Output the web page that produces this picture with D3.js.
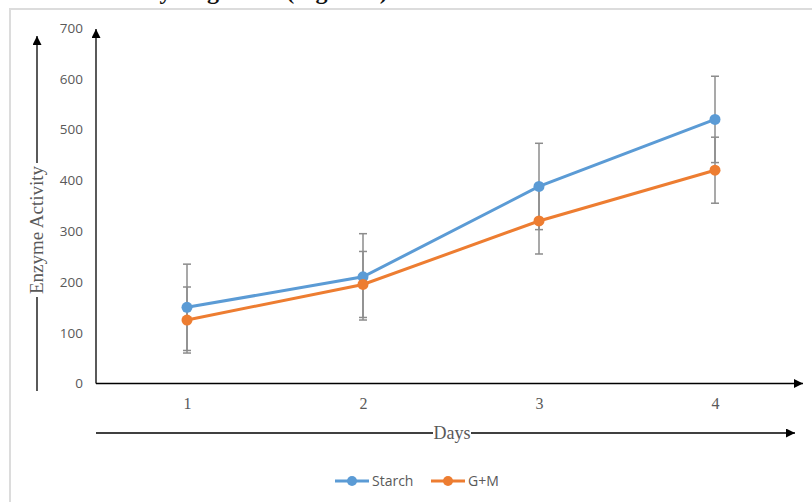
<!DOCTYPE html>
<html>
<head>
<meta charset="utf-8">
<script src="https://cdn.jsdelivr.net/npm/d3@7"></script>
<style>
  html, body { margin: 0; padding: 0; background: #fff; }
  svg { display: block; }
</style>
</head>
<body>
<svg id="chart" width="812" height="502"></svg>
<script>
// Days of incubation and mean enzyme activity for each carbon source
const days = [1, 2, 3, 4];
const starch = [150, 210, 388, 520];
const gm = [125, 195, 320, 420];
// Standard error of each series
const starchErr = [85, 85, 85, 85];
const gmErr = [65, 65, 65, 65];
const yTicks = [0, 100, 200, 300, 400, 500, 600, 700];
const seriesNames = ["Starch", "G+M"];
const colors = ["#5b9bd5", "#ed7d31"];

const svg = d3.select("#chart");

// Panel frame (top and left edges)
svg.append("path")
  .attr("d", "M10,502V9H812")
  .attr("fill", "none")
  .attr("stroke", "#dcdcdc")
  .attr("stroke-width", 2);

// Figure title, running off the top of the page
svg.append("text")
  .attr("x", 26).attr("y", -1)
  .attr("font-family", "Liberation Serif, serif")
  .attr("font-weight", "bold")
  .attr("font-size", 24)
  .attr("fill", "#111")
  .text("Production by Organism (Figure 2)");

const x = d3.scalePoint().domain(days).range([99, 803]).padding(0.5);
const y = d3.scaleLinear().domain([0, 700]).range([383.5, 28]);

// Arrowhead marker
const defs = svg.append("defs");
defs.append("marker")
  .attr("id", "arrow")
  .attr("viewBox", "0 0 10 10")
  .attr("refX", 10).attr("refY", 5)
  .attr("markerWidth", 11).attr("markerHeight", 9)
  .attr("markerUnits", "userSpaceOnUse")
  .attr("orient", "auto")
  .append("path")
  .attr("d", "M0,0L10,5L0,10Z")
  .attr("fill", "#000");

// Axes drawn as arrows
const axisG = svg.append("g").attr("stroke", "#000").attr("stroke-width", 1.3).attr("fill", "none");
axisG.append("path").attr("d", `M96,${y(0)}V${y(700) + 1}`).attr("marker-end", "url(#arrow)");
axisG.append("path").attr("d", `M96,${y(0)}H803`).attr("marker-end", "url(#arrow)");

// Y tick labels
const yAxis = d3.axisLeft(y).tickValues(yTicks).tickSize(0).tickPadding(0);
const yg = svg.append("g").attr("transform", "translate(83,0)").call(yAxis);
yg.select(".domain").remove();
yg.selectAll("text")
  .attr("font-family", "Open Sans, sans-serif")
  .attr("font-size", 13.5)
  .attr("fill", "#595959");

// X tick labels
const xAxis = d3.axisBottom(x).tickSize(0).tickPadding(0);
const xg = svg.append("g").attr("transform", "translate(0,398)").call(xAxis);
xg.select(".domain").remove();
xg.selectAll("text")
  .attr("font-family", "Liberation Serif, serif")
  .attr("font-size", 16)
  .attr("fill", "#595959");

// Y axis title with its arrow
const yTitleX = 37;
svg.append("path").attr("d", `M${yTitleX},391V297`).attr("stroke", "#000").attr("stroke-width", 1.3);
svg.append("path").attr("d", `M${yTitleX},163V36`).attr("stroke", "#000").attr("stroke-width", 1.3)
  .attr("marker-end", "url(#arrow)");
svg.append("text")
  .attr("transform", `translate(${yTitleX + 6},230) rotate(-90)`)
  .attr("text-anchor", "middle")
  .attr("font-family", "Liberation Serif, serif")
  .attr("font-size", 19)
  .attr("fill", "#595959")
  .text("Enzyme Activity");

// X axis title with its arrow
svg.append("path").attr("d", "M96,433H433").attr("stroke", "#000").attr("stroke-width", 1.3);
svg.append("path").attr("d", "M471,433H795").attr("stroke", "#000").attr("stroke-width", 1.3)
  .attr("marker-end", "url(#arrow)");
svg.append("text")
  .attr("x", 452).attr("y", 439)
  .attr("text-anchor", "middle")
  .attr("font-family", "Liberation Serif, serif")
  .attr("font-size", 18)
  .attr("fill", "#595959")
  .text("Days");

// Series
const series = [
  { name: seriesNames[0], values: starch, err: starchErr, color: colors[0] },
  { name: seriesNames[1], values: gm, err: gmErr, color: colors[1] }
];

const line = d3.line().x((d, i) => x(days[i])).y(d => y(d));

series.forEach(s => {
  const g = svg.append("g");
  // error bars
  const eb = g.append("g").attr("stroke", "#8c8c8c").attr("stroke-width", 1.5);
  s.values.forEach((v, i) => {
    const cx = x(days[i]);
    const top = y(v + s.err[i]), bot = y(v - s.err[i]);
    eb.append("line").attr("x1", cx).attr("x2", cx).attr("y1", top).attr("y2", bot);
    eb.append("line").attr("x1", cx - 4).attr("x2", cx + 4).attr("y1", top).attr("y2", top);
    eb.append("line").attr("x1", cx - 4).attr("x2", cx + 4).attr("y1", bot).attr("y2", bot);
  });
});

series.forEach(s => {
  const g = svg.append("g");
  g.append("path")
    .datum(s.values)
    .attr("d", line)
    .attr("fill", "none")
    .attr("stroke", s.color)
    .attr("stroke-width", 3);
  g.selectAll("circle")
    .data(s.values)
    .join("circle")
    .attr("cx", (d, i) => x(days[i]))
    .attr("cy", d => y(d))
    .attr("r", 5.5)
    .attr("fill", s.color);
});

// Legend
const legend = svg.append("g");
const legendX = [335, 431];
series.forEach((s, i) => {
  const lg = legend.append("g").attr("transform", `translate(${legendX[i]},481)`);
  lg.append("line").attr("x1", 0).attr("x2", 34).attr("y1", 0).attr("y2", 0)
    .attr("stroke", s.color).attr("stroke-width", 3);
  lg.append("circle").attr("cx", 17).attr("cy", 0).attr("r", 5).attr("fill", s.color);
  lg.append("text")
    .attr("x", 37).attr("y", 5)
    .attr("font-family", "Open Sans, sans-serif")
    .attr("font-size", 14)
    .attr("fill", "#595959")
    .text(s.name);
});
</script>
</body>
</html>
